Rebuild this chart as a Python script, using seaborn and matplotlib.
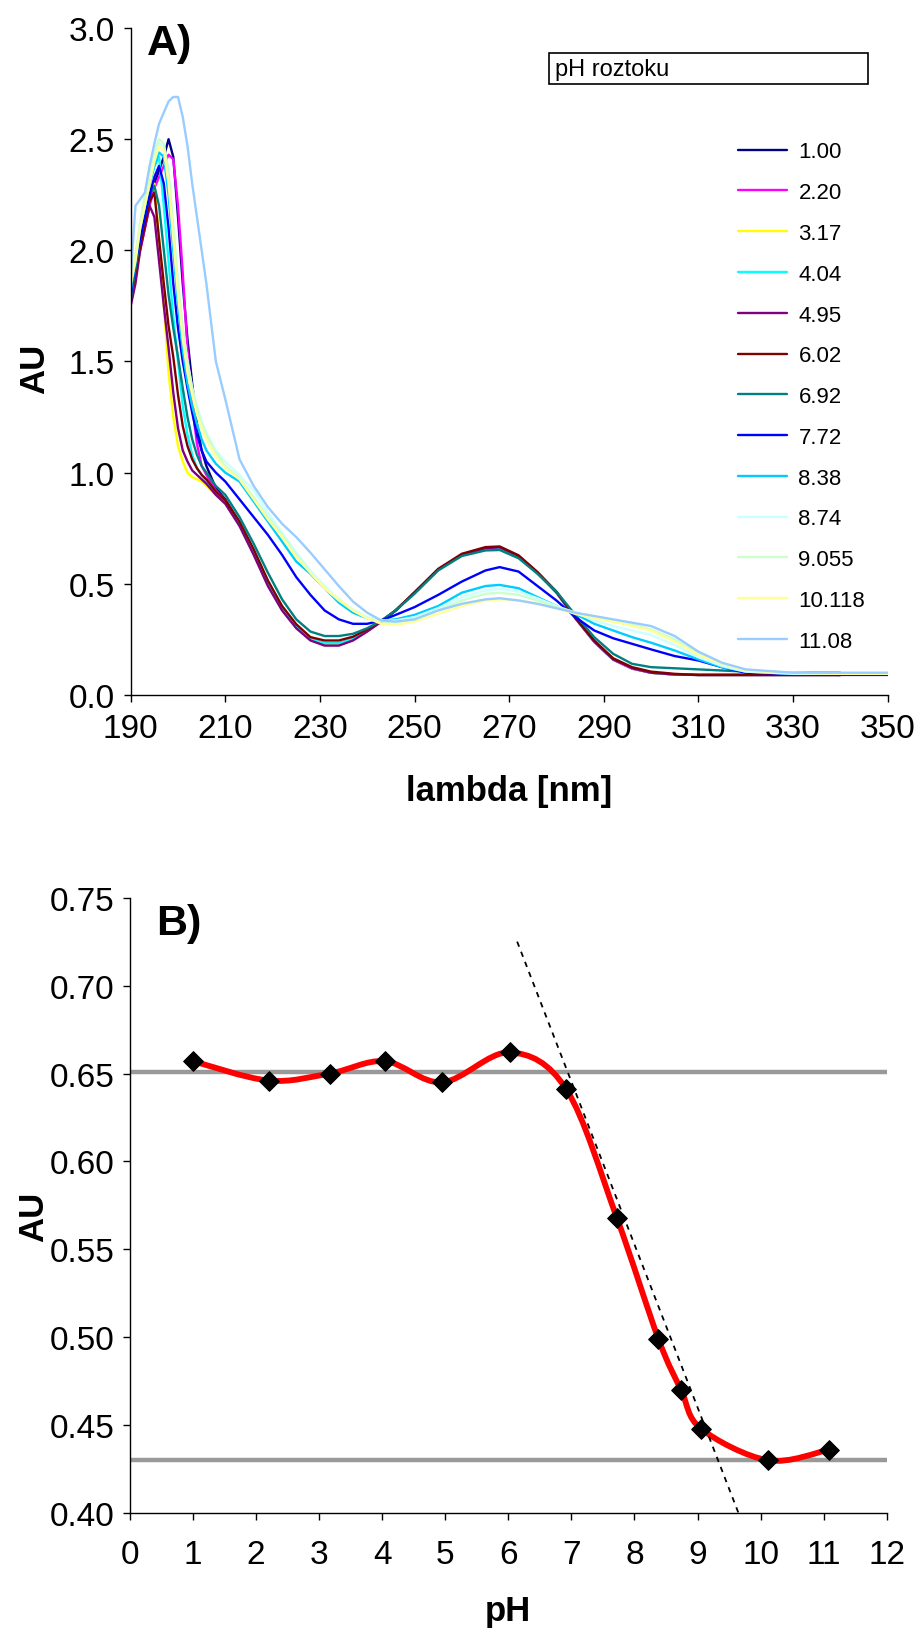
import numpy as np
import pandas as pd
import matplotlib
matplotlib.use("Agg")
import matplotlib.pyplot as plt
import seaborn as sns
from matplotlib.path import Path
from matplotlib.patches import PathPatch, Rectangle

nan = np.nan

# ---------------- Panel A data: UV spectra at different pH ----------------
wavelength = [190, 191, 192, 193, 194, 195, 196, 197, 198, 199, 200, 201, 202, 203, 204, 205, 206,
              208, 210, 213, 216, 219, 222, 225, 228, 231, 234, 237, 240, 243, 246, 250, 255, 260,
              265, 268, 272, 276, 280, 284, 288, 292, 296, 300, 305, 310, 315, 320, 330, 340, 350]

ph_labels = ["1.00", "2.20", "3.17", "4.04", "4.95", "6.02", "6.92", "7.72", "8.38", "8.74",
             "9.055", "10.118", "11.08"]
line_colors = ["#000080", "#FF00FF", "#FFFF00", "#00FFFF", "#800080", "#800000", "#008080",
               "#0000FF", "#00CCFF", "#CCFFFF", "#CCFFCC", "#FFFF99", "#99CCFF"]

au_ph_1_00 = [1.80, 1.92, 2.02, 2.12, 2.22, 2.30, 2.36, 2.42, 2.50, 2.42, 2.15, 1.85, 1.60, 1.40, 1.22, 1.10, 1.03,
              0.93, 0.88, 0.775, 0.648, 0.505, 0.39, 0.308, 0.25, 0.232, 0.232, 0.252, 0.29, 0.33, 0.38, 0.46, 0.563, 0.63,
              0.658, 0.663, 0.624, 0.55, 0.462, 0.347, 0.24, 0.16, 0.12, 0.10, 0.092, 0.09, 0.09, 0.09, 0.09, 0.09, nan]
au_ph_2_20 = [1.78, 1.90, 2.00, 2.10, 2.20, 2.28, 2.33, 2.38, 2.43, 2.41, 2.20, 1.90, 1.55, 1.30, 1.13, 1.03, 0.99,
              0.92, 0.875, 0.77, 0.645, 0.50, 0.385, 0.305, 0.248, 0.228, 0.228, 0.25, 0.288, 0.33, 0.38, 0.46, 0.563, 0.63,
              0.658, 0.662, 0.622, 0.548, 0.46, 0.345, 0.238, 0.158, 0.118, 0.10, 0.092, 0.09, 0.09, 0.09, 0.09, 0.09, nan]
au_ph_3_17 = [1.80, 1.95, 2.08, 2.18, 2.28, 2.30, 2.05, 1.75, 1.45, 1.25, 1.12, 1.05, 1.00, 0.98, 0.97, 0.96, 0.94,
              0.90, 0.86, 0.765, 0.64, 0.50, 0.385, 0.305, 0.25, 0.23, 0.23, 0.25, 0.29, 0.33, 0.38, 0.46, 0.565, 0.63,
              0.658, 0.662, 0.623, 0.548, 0.46, 0.345, 0.24, 0.16, 0.12, 0.10, 0.092, 0.09, 0.09, 0.09, 0.09, 0.09, nan]
au_ph_4_04 = [1.82, 1.95, 2.08, 2.20, 2.30, 2.38, 2.42, 2.20, 1.95, 1.70, 1.50, 1.30, 1.17, 1.08, 1.02, 0.99, 0.96,
              0.91, 0.87, 0.77, 0.645, 0.505, 0.39, 0.31, 0.25, 0.232, 0.232, 0.252, 0.29, 0.33, 0.38, 0.46, 0.562, 0.628,
              0.655, 0.658, 0.62, 0.547, 0.46, 0.345, 0.24, 0.16, 0.12, 0.10, 0.092, 0.09, 0.09, 0.09, 0.09, 0.09, nan]
au_ph_4_95 = [1.75, 1.85, 2.00, 2.10, 2.20, 2.15, 1.95, 1.75, 1.56, 1.36, 1.20, 1.10, 1.05, 1.01, 0.99, 0.97, 0.95,
              0.90, 0.86, 0.76, 0.63, 0.49, 0.38, 0.30, 0.245, 0.222, 0.222, 0.245, 0.285, 0.33, 0.38, 0.46, 0.565, 0.63,
              0.66, 0.664, 0.625, 0.55, 0.462, 0.345, 0.24, 0.16, 0.12, 0.10, 0.092, 0.09, 0.09, 0.09, 0.09, 0.09, nan]
au_ph_6_02 = [1.78, 1.90, 2.02, 2.12, 2.22, 2.26, 2.05, 1.85, 1.66, 1.52, 1.35, 1.21, 1.12, 1.06, 1.02, 0.99, 0.97,
              0.915, 0.875, 0.78, 0.655, 0.515, 0.40, 0.318, 0.26, 0.245, 0.245, 0.262, 0.295, 0.333, 0.38, 0.462, 0.567, 0.635,
              0.665, 0.668, 0.628, 0.553, 0.465, 0.35, 0.245, 0.165, 0.125, 0.105, 0.095, 0.09, 0.09, 0.09, 0.09, 0.09, nan]
au_ph_6_92 = [1.78, 1.92, 2.05, 2.15, 2.25, 2.29, 2.20, 2.00, 1.80, 1.65, 1.52, 1.38, 1.25, 1.15, 1.08, 1.03, 1.00,
              0.94, 0.90, 0.80, 0.68, 0.55, 0.43, 0.34, 0.285, 0.265, 0.265, 0.275, 0.30, 0.335, 0.38, 0.455, 0.56, 0.625,
              0.65, 0.652, 0.615, 0.545, 0.465, 0.36, 0.26, 0.185, 0.14, 0.125, 0.12, 0.115, 0.11, 0.105, 0.10, 0.10, nan]
au_ph_7_72 = [1.80, 1.95, 2.05, 2.15, 2.25, 2.33, 2.38, 2.30, 2.10, 1.85, 1.65, 1.50, 1.38, 1.27, 1.17, 1.10, 1.05,
              1.00, 0.96, 0.88, 0.80, 0.72, 0.63, 0.53, 0.45, 0.38, 0.34, 0.32, 0.32, 0.335, 0.36, 0.395, 0.45, 0.51,
              0.56, 0.575, 0.555, 0.49, 0.425, 0.35, 0.29, 0.255, 0.23, 0.205, 0.175, 0.155, 0.125, 0.10, 0.095, 0.09, 0.09]
au_ph_8_38 = [1.82, 1.95, 2.10, 2.20, 2.30, 2.38, 2.44, 2.42, 2.25, 2.00, 1.75, 1.55, 1.40, 1.30, 1.22, 1.15, 1.10,
              1.04, 1.00, 0.96, 0.87, 0.78, 0.69, 0.60, 0.545, 0.48, 0.415, 0.37, 0.345, 0.335, 0.34, 0.36, 0.40, 0.46,
              0.49, 0.495, 0.48, 0.44, 0.40, 0.365, 0.32, 0.29, 0.26, 0.235, 0.20, 0.16, 0.125, 0.105, 0.095, 0.095, 0.095]
au_ph_8_74 = [1.85, 1.97, 2.12, 2.25, 2.35, 2.43, 2.48, 2.47, 2.35, 2.10, 1.85, 1.65, 1.50, 1.38, 1.30, 1.23, 1.18,
              1.10, 1.05, 0.99, 0.92, 0.82, 0.73, 0.64, 0.56, 0.49, 0.43, 0.385, 0.35, 0.335, 0.335, 0.35, 0.39, 0.44,
              0.47, 0.477, 0.465, 0.435, 0.40, 0.37, 0.335, 0.31, 0.29, 0.27, 0.225, 0.17, 0.13, 0.105, 0.095, 0.095, 0.095]
au_ph_9_055 = [1.85, 1.98, 2.12, 2.25, 2.36, 2.45, 2.50, 2.48, 2.35, 2.10, 1.85, 1.65, 1.50, 1.38, 1.29, 1.22, 1.17,
               1.09, 1.03, 0.975, 0.89, 0.80, 0.72, 0.63, 0.55, 0.48, 0.425, 0.38, 0.345, 0.33, 0.325, 0.34, 0.38, 0.425,
               0.455, 0.46, 0.45, 0.425, 0.395, 0.37, 0.345, 0.33, 0.315, 0.295, 0.25, 0.185, 0.14, 0.11, 0.10, 0.095, 0.095]
au_ph_10_118 = [1.85, 1.95, 2.10, 2.20, 2.30, 2.40, 2.47, 2.45, 2.30, 2.05, 1.80, 1.60, 1.45, 1.35, 1.26, 1.20, 1.15,
                1.07, 1.02, 0.97, 0.88, 0.79, 0.71, 0.62, 0.55, 0.48, 0.43, 0.38, 0.345, 0.32, 0.315, 0.33, 0.365, 0.40,
                0.425, 0.43, 0.425, 0.41, 0.39, 0.365, 0.345, 0.33, 0.31, 0.29, 0.24, 0.18, 0.14, 0.11, 0.10, 0.095, 0.095]
au_ph_11_08 = [1.88, 2.20, 2.23, 2.26, 2.38, 2.48, 2.57, 2.62, 2.67, 2.69, 2.69, 2.60, 2.47, 2.30, 2.15, 2.00, 1.85,
               1.50, 1.33, 1.06, 0.94, 0.845, 0.77, 0.71, 0.64, 0.565, 0.49, 0.42, 0.37, 0.335, 0.33, 0.34, 0.38, 0.41,
               0.43, 0.435, 0.425, 0.41, 0.39, 0.37, 0.355, 0.34, 0.325, 0.31, 0.265, 0.195, 0.145, 0.115, 0.10, 0.10, 0.10]

spectra = [au_ph_1_00, au_ph_2_20, au_ph_3_17, au_ph_4_04, au_ph_4_95, au_ph_6_02, au_ph_6_92,
           au_ph_7_72, au_ph_8_38, au_ph_8_74, au_ph_9_055, au_ph_10_118, au_ph_11_08]

# ---------------- Panel B data: absorbance vs pH ----------------
ph_values = [1.00, 2.20, 3.17, 4.04, 4.95, 6.02, 6.92, 7.72, 8.38, 8.74, 9.055, 10.118, 11.08]
au_vs_ph = [0.657, 0.646, 0.650, 0.657, 0.645, 0.662, 0.641, 0.568, 0.499, 0.470, 0.448, 0.430, 0.436]
plateau_acid = 0.651
plateau_base = 0.430
tangent_ph = [6.14, 9.65]
tangent_au = [0.725, 0.400]

# ---------------- Build long table ----------------
rows = []
for lab, vals in zip(ph_labels, spectra):
    for w, v in zip(wavelength, vals):
        rows.append({"lambda": w, "AU": v, "pH": lab})
df_spec = pd.DataFrame(rows)

sns.set_theme(style="ticks")
plt.rcParams["font.family"] = ["Liberation Sans", "DejaVu Sans"]
plt.rcParams["text.color"] = "black"
plt.rcParams["axes.labelcolor"] = "black"
plt.rcParams["xtick.color"] = "black"
plt.rcParams["ytick.color"] = "black"

fig = plt.figure(figsize=(9.16, 16.31), dpi=100)
axA = fig.add_axes([0.1427, 0.5733, 0.8262, 0.4089])
axB = fig.add_axes([0.1419, 0.0717, 0.8261, 0.3773])

TICK_FS = 24
LABEL_FS = 25

# ---- Panel A ----
sns.lineplot(data=df_spec, x="lambda", y="AU", hue="pH", hue_order=ph_labels,
             palette=dict(zip(ph_labels, line_colors)), estimator=None, sort=False,
             linewidth=1.7, ax=axA, legend=True)
axA.set_xlim(190, 350)
axA.set_ylim(0, 3.0)
axA.set_xticks(np.arange(190, 351, 20))
axA.set_yticks(np.arange(0, 3.01, 0.5))
axA.set_yticklabels([f"{v:.1f}" for v in np.arange(0, 3.01, 0.5)])
axA.set_xlabel("lambda [nm]", fontsize=LABEL_FS, fontweight="bold")
axA.set_ylabel("AU", fontsize=LABEL_FS, fontweight="bold")
axA.xaxis.set_label_coords(0.5, -0.118)
axA.yaxis.set_label_coords(-0.105, 0.49)
axA.text(0.022, 1.008, "A)", transform=axA.transAxes, fontsize=31, fontweight="bold",
         ha="left", va="top")

leg = axA.legend(loc="upper left", bbox_to_anchor=(0.803, 0.830), frameon=False,
                 fontsize=16, handlelength=2.2, handletextpad=0.5, labelspacing=0.89,
                 borderaxespad=0, borderpad=0)
for h in leg.get_lines():
    h.set_linewidth(1.7)

axA.add_patch(Rectangle((0.553, 0.916), 0.421, 0.0465, transform=axA.transAxes,
                        facecolor="white", edgecolor="black", lw=1.2, clip_on=False))
axA.text(0.561, 0.939, "pH roztoku", transform=axA.transAxes, fontsize=17,
         ha="left", va="center")

# ---- Panel B ----
axB.axhline(plateau_acid, color="#999999", lw=3.2, zorder=1)
axB.axhline(plateau_base, color="#999999", lw=3.2, zorder=1)

# Smoothed (Excel-like Bezier) line through the measured points
px = np.array(ph_values)
py = np.array(au_vs_ph)
P = np.column_stack([px, py])
Pext = np.vstack([P[0], P, P[-1]])
verts = [tuple(P[0])]
codes = [Path.MOVETO]
for i in range(len(P) - 1):
    p0, p1, p2, p3 = Pext[i], Pext[i + 1], Pext[i + 2], Pext[i + 3]
    c1 = p1 + (p2 - p0) / 6.0
    c2 = p2 - (p3 - p1) / 6.0
    verts += [tuple(c1), tuple(c2), tuple(p2)]
    codes += [Path.CURVE4] * 3
axB.add_patch(PathPatch(Path(verts, codes), facecolor="none", edgecolor="#FF0000",
                        lw=4.2, capstyle="round", joinstyle="round", zorder=2))

sns.lineplot(x=tangent_ph, y=tangent_au, ax=axB, color="black", lw=1.3,
             linestyle=(0, (3, 3)), zorder=3)
sns.scatterplot(x=ph_values, y=au_vs_ph, ax=axB, marker="D", s=100, color="black",
                edgecolor="black", zorder=4)

axB.set_xlim(0, 12)
axB.set_ylim(0.40, 0.75)
axB.set_xticks(np.arange(0, 13, 1))
axB.set_yticks(np.arange(0.40, 0.751, 0.05))
axB.set_yticklabels([f"{v:.2f}" for v in np.arange(0.40, 0.751, 0.05)])
axB.set_xlabel("pH", fontsize=LABEL_FS, fontweight="bold")
axB.set_ylabel("AU", fontsize=LABEL_FS, fontweight="bold")
axB.xaxis.set_label_coords(0.5, -0.132)
axB.yaxis.set_label_coords(-0.105, 0.4835)
axB.text(0.034, 0.992, "B)", transform=axB.transAxes, fontsize=31, fontweight="bold",
         ha="left", va="top")

for ax in (axA, axB):
    sns.despine(ax=ax)
    ax.spines["left"].set_color("black")
    ax.spines["bottom"].set_color("black")
    ax.spines["left"].set_linewidth(1.0)
    ax.spines["bottom"].set_linewidth(1.0)
    ax.tick_params(axis="both", direction="out", length=5, width=1, color="black",
                   labelsize=TICK_FS)
    ax.tick_params(axis="y", pad=6.4)

axA.tick_params(axis="x", pad=8)
axB.tick_params(axis="x", pad=14)

fig.savefig("out.png", dpi=100, facecolor="white")
